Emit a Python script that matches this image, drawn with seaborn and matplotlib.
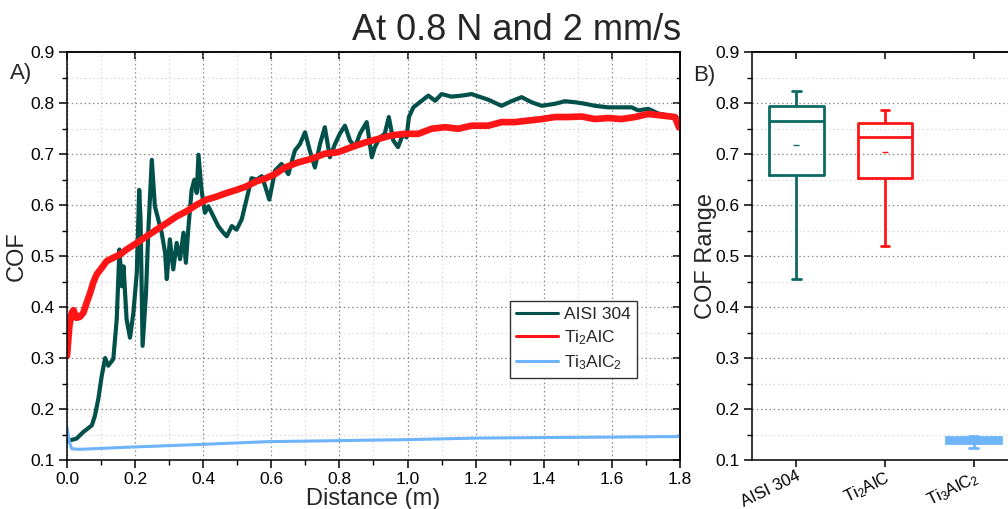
import numpy as np
import pandas as pd
import matplotlib
matplotlib.use("Agg")
import matplotlib.pyplot as plt
import seaborn as sns
from matplotlib.ticker import MultipleLocator, FormatStrFormatter
from matplotlib.lines import Line2D

# ---------------- data ----------------
materials = ["AISI 304", "Ti$_2$AlC", "Ti$_3$AlC$_2$"]

aisi_x = [0.000, 0.028, 0.048, 0.073, 0.082, 0.092, 0.102, 0.112, 0.121, 0.136,
          0.146, 0.154, 0.161, 0.166, 0.175, 0.185, 0.195, 0.205, 0.212, 0.216,
          0.222, 0.232, 0.239, 0.249, 0.258, 0.268, 0.278, 0.288, 0.293, 0.302,
          0.312, 0.322, 0.332, 0.342, 0.349, 0.356, 0.366, 0.374, 0.381, 0.386,
          0.395, 0.405, 0.415, 0.430, 0.444, 0.459, 0.469, 0.484, 0.498, 0.513,
          0.527, 0.542, 0.557, 0.572, 0.582, 0.594,
          0.611, 0.630, 0.650, 0.669, 0.684, 0.699, 0.713, 0.728, 0.743, 0.757,
          0.772, 0.787, 0.801, 0.816, 0.831, 0.846, 0.860, 0.880, 0.895, 0.904,
          0.919, 0.933, 0.945, 0.958, 0.972, 0.987, 0.997, 1.004, 1.017, 1.036,
          1.061, 1.081, 1.100, 1.129, 1.159, 1.188,
          1.237, 1.276, 1.305, 1.335, 1.364, 1.394, 1.433, 1.462, 1.492, 1.521,
          1.550, 1.589, 1.628, 1.658, 1.677, 1.707, 1.736, 1.765, 1.790]
aisi_y = [0.137, 0.142, 0.155, 0.168, 0.187, 0.220, 0.265, 0.300, 0.285, 0.298,
          0.376, 0.513, 0.441, 0.480, 0.376, 0.340, 0.389, 0.468, 0.630, 0.572,
          0.324, 0.428, 0.552, 0.689, 0.598, 0.572, 0.546, 0.507, 0.455, 0.533,
          0.474, 0.526, 0.494, 0.546, 0.487, 0.552, 0.630, 0.650, 0.624, 0.699,
          0.630, 0.585, 0.598, 0.578, 0.559, 0.546, 0.539, 0.559, 0.552, 0.572,
          0.611, 0.653, 0.650, 0.657, 0.637, 0.611,
          0.668, 0.681, 0.661, 0.707, 0.720, 0.743, 0.707, 0.674, 0.720, 0.753,
          0.694, 0.720, 0.740, 0.756, 0.727, 0.714, 0.740, 0.763, 0.694, 0.714,
          0.733, 0.740, 0.773, 0.727, 0.714, 0.740, 0.733, 0.773, 0.792, 0.802,
          0.815, 0.805, 0.818, 0.813, 0.815, 0.818,
          0.807, 0.795, 0.804, 0.812, 0.802, 0.795, 0.799, 0.804, 0.802, 0.799,
          0.795, 0.792, 0.792, 0.792, 0.786, 0.789, 0.780, 0.776, 0.773]

ti2_x = [0.000, 0.007, 0.014, 0.019, 0.028, 0.038, 0.048, 0.058, 0.068, 0.077,
         0.087, 0.102, 0.116, 0.136, 0.155, 0.175, 0.205, 0.234, 0.263, 0.293,
         0.322, 0.351, 0.381, 0.410, 0.440, 0.469, 0.498, 0.527, 0.557, 0.581,
         0.611, 0.640, 0.679, 0.718, 0.757, 0.796, 0.836, 0.875, 0.914, 0.953,
         0.992, 1.031, 1.071, 1.110, 1.149, 1.188,
         1.237, 1.276, 1.315, 1.354, 1.394, 1.433, 1.472, 1.511, 1.550, 1.589,
         1.628, 1.668, 1.707, 1.746, 1.785, 1.797]
ti2_y = [0.304, 0.363, 0.389, 0.394, 0.379, 0.381, 0.389, 0.409, 0.428, 0.448,
         0.464, 0.477, 0.490, 0.497, 0.503, 0.513, 0.526, 0.539, 0.552, 0.565,
         0.578, 0.588, 0.601, 0.611, 0.617, 0.624, 0.630, 0.637, 0.647, 0.652,
         0.661, 0.674, 0.684, 0.691, 0.701, 0.704, 0.714, 0.723, 0.730, 0.737,
         0.740, 0.740, 0.750, 0.753, 0.750, 0.756,
         0.756, 0.763, 0.763, 0.766, 0.769, 0.773, 0.773, 0.774, 0.769, 0.771,
         0.769, 0.773, 0.779, 0.776, 0.773, 0.753]

ti3_x = [0.000, 0.007, 0.014, 0.038, 0.175, 0.371, 0.591, 0.800, 1.000, 1.200,
         1.400, 1.600, 1.800]
ti3_y = [0.164, 0.135, 0.122, 0.121, 0.125, 0.130, 0.136, 0.138, 0.140, 0.143,
         0.144, 0.145, 0.146]

# box statistics: [lower whisker, Q1, median, Q3, upper whisker]
box_aisi = [0.456, 0.659, 0.765, 0.795, 0.824]
box_ti2 = [0.520, 0.654, 0.733, 0.761, 0.787]
box_ti3 = [0.124, 0.133, 0.139, 0.145, 0.148]
box_means = [0.719, 0.705, 0.139]

# ---------------- style ----------------
sns.set_theme(style="ticks")
plt.rcParams['font.family'] = ['Liberation Sans', 'DejaVu Sans']
plt.rcParams['mathtext.default'] = 'regular'
plt.rcParams['axes.edgecolor'] = 'black'
plt.rcParams['axes.linewidth'] = 1.1
plt.rcParams['xtick.color'] = 'black'
plt.rcParams['ytick.color'] = 'black'

c_aisi_line = '#02504a'
c_aisi_box = '#0d6964'
c_ti2 = '#ff1515'
c_ti3 = '#6db4fa'

fig = plt.figure(figsize=(10.08, 5.09), dpi=100)
ax1 = fig.add_axes([67/1008, 1-460/509, 613/1008, 407.7/509])
ax2 = fig.add_axes([752/1008, 1-460/509, 266/1008, 407.7/509])

grid_major = dict(color='#8a8a8a', lw=0.9, dashes=(1.2, 2.2))
grid_minor = dict(color='#d9d9d9', lw=0.9, dashes=(1.2, 2.2))

# ---------------- left panel: COF vs distance ----------------
df_aisi = pd.DataFrame({'Distance': aisi_x, 'COF': aisi_y})
df_ti2 = pd.DataFrame({'Distance': ti2_x, 'COF': ti2_y})
df_ti3 = pd.DataFrame({'Distance': ti3_x, 'COF': ti3_y})

ax1.set_axisbelow(True)
sns.lineplot(data=df_aisi, x='Distance', y='COF', color=c_aisi_line, lw=3.0,
             sort=False, estimator=None, ax=ax1, legend=False)
sns.lineplot(data=df_ti2, x='Distance', y='COF', color=c_ti2, lw=4.8,
             sort=False, estimator=None, ax=ax1, legend=False)
sns.lineplot(data=df_ti3, x='Distance', y='COF', color=c_ti3, lw=2.2,
             sort=False, estimator=None, ax=ax1, legend=False)

ax1.set_xlim(0, 1.8)
ax1.set_ylim(0.1, 0.9)
ax1.xaxis.set_major_locator(MultipleLocator(0.2))
ax1.xaxis.set_minor_locator(MultipleLocator(0.1))
ax1.yaxis.set_major_locator(MultipleLocator(0.1))
ax1.yaxis.set_minor_locator(MultipleLocator(0.05))
ax1.xaxis.set_major_formatter(FormatStrFormatter('%.1f'))
ax1.yaxis.set_major_formatter(FormatStrFormatter('%.1f'))
ax1.grid(True, which='major', **grid_major)
ax1.grid(True, which='minor', **grid_minor)
ax1.tick_params(which='major', direction='out', length=6, width=1.1, labelsize=12.5, pad=3)
ax1.tick_params(which='minor', direction='out', length=3.5, width=1.0)
ax1.set_xlabel('Distance (m)', fontsize=17, labelpad=0)
ax1.set_ylabel('COF', fontsize=17, labelpad=2)
for s in ax1.spines.values():
    s.set_visible(True)

sec_top = ax1.secondary_xaxis('top')
sec_top.xaxis.set_major_locator(MultipleLocator(0.2))
sec_top.tick_params(direction='in', length=5, width=1.1, labeltop=False)
sec_right = ax1.secondary_yaxis('right')
sec_right.yaxis.set_major_locator(MultipleLocator(0.1))
sec_right.yaxis.set_minor_locator(MultipleLocator(0.05))
sec_right.tick_params(which='major', direction='in', length=5, width=1.1, labelright=False)
sec_right.tick_params(which='minor', direction='in', length=3, width=1.0, labelright=False)

handles = [Line2D([], [], color=c_aisi_line, lw=2.2),
           Line2D([], [], color=c_ti2, lw=2.2),
           Line2D([], [], color=c_ti3, lw=2.2)]
leg = ax1.legend(handles, materials, loc='upper left', bbox_to_anchor=(0.723, 0.39),
                 fontsize=12.5, frameon=True, fancybox=False, edgecolor='#333333',
                 framealpha=1, handlelength=2.4, handletextpad=0.35,
                 labelspacing=0.35, borderpad=0.35, borderaxespad=0)
leg.get_frame().set_linewidth(1.0)

# ---------------- right panel: box plot ----------------
df_box = pd.DataFrame({
    'Material': [materials[0]] * 5 + [materials[1]] * 5 + [materials[2]] * 5,
    'COF': box_aisi + box_ti2 + box_ti3,
})
box_colors = [c_aisi_box, c_ti2, c_ti3]
box_fill = [False, False, True]
ax2.set_axisbelow(True)
for mat, col, fl in zip(materials, box_colors, box_fill):
    sns.boxplot(data=df_box[df_box['Material'] == mat], x='Material', y='COF',
                order=materials, color=col, linecolor=col, fill=fl, saturation=1,
                whis=np.inf, width=0.62, linewidth=2.0, showfliers=False,
                capwidths=0.1, ax=ax2)
ax2.scatter(range(3), box_means, marker='_', s=18, c=box_colors, lw=1.0, zorder=5)

ax2.set_xlim(-0.5, 2.5)
ax2.set_ylim(0.1, 0.9)
ax2.yaxis.set_major_locator(MultipleLocator(0.1))
ax2.yaxis.set_minor_locator(MultipleLocator(0.05))
ax2.yaxis.set_major_formatter(FormatStrFormatter('%.1f'))
ax2.yaxis.grid(True, which='major', **grid_major)
ax2.yaxis.grid(True, which='minor', **grid_minor)
ax2.xaxis.grid(False)
ax2.tick_params(axis='y', which='major', direction='out', length=6, width=1.1, labelsize=12.5, pad=3)
ax2.tick_params(axis='y', which='minor', direction='out', length=3.5, width=1.0)
ax2.tick_params(axis='x', which='major', direction='out', length=5, width=1.1, labelsize=12, pad=1)
for lab in ax2.get_xticklabels():
    lab.set_rotation(26)
    lab.set_ha('right')
    lab.set_rotation_mode('anchor')
ax2.set_xlabel('')
ax2.set_ylabel('COF Range', fontsize=17, labelpad=-1)
for s in ax2.spines.values():
    s.set_visible(True)
sec_top2 = ax2.secondary_xaxis('top')
sec_top2.set_xticks([0, 1, 2])
sec_top2.tick_params(direction='in', length=5, width=1.1, labeltop=False)

# ---------------- texts ----------------
fig.text(517/1008, 1-30/509, 'At 0.8 N and 2 mm/s', ha='center', va='center',
         fontsize=26, family=['Liberation Sans Narrow', 'Liberation Sans', 'DejaVu Sans'])
fig.text(10/1008, 1-73/509, 'A)', ha='left', va='center', fontsize=16)
fig.text(693/1008, 1-75/509, 'B)', ha='left', va='center', fontsize=16)

fig.savefig('out.png', dpi=100)
